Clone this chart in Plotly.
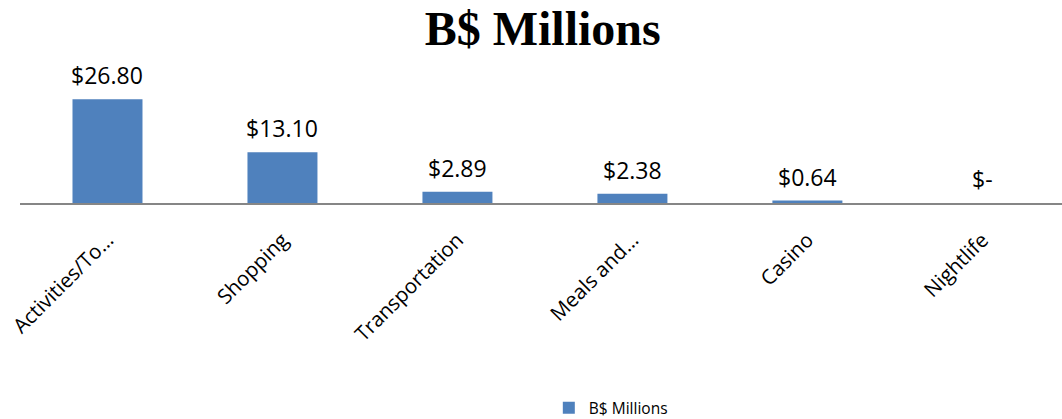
import plotly.graph_objects as go

categories = ["Activities/To…", "Shopping", "Transportation", "Meals and…", "Casino", "Nightlife"]
values = [26.80, 13.10, 2.89, 2.38, 0.64, 0.0]
value_labels = ["$26.80", "$13.10", "$2.89", "$2.38", "$0.64", "$-"]
series_name = "B$ Millions"
title_text = "B$ Millions"

fig = go.Figure()
fig.add_trace(go.Bar(
    x=categories, y=values, name=series_name,
    marker=dict(color="#4F81BD", line=dict(color="#4F81BD", width=0)),
    width=0.4, showlegend=True,
))

font_family = "Open Sans, Lato, sans-serif"
annotations = [
    dict(x=c, y=v, text=t, showarrow=False, yshift=24, xref="x", yref="y",
         font=dict(family=font_family, size=23, color="#000000"))
    for c, v, t in zip(categories, values, value_labels)
]

fig.update_layout(
    width=1062, height=419,
    margin=dict(l=20, r=0, t=87, b=216),
    paper_bgcolor="white", plot_bgcolor="white",
    title=dict(text="<b>" + title_text + "</b>", x=0.511, xanchor="center", y=0.933, yanchor="middle",
               font=dict(family="Liberation Serif, Times New Roman, serif", size=48, color="#000000")),
    xaxis=dict(range=[-0.5, 5.455], showline=True, linecolor="#868686", linewidth=2,
               ticks="", tickangle=-45, showgrid=False, zeroline=False, ticklabelstandoff=15,
               tickfont=dict(family=font_family, size=20.5, color="#000000")),
    yaxis=dict(range=[0, 30], visible=False, showgrid=False, zeroline=False),
    showlegend=True,
    legend=dict(orientation="h", x=0.567, xanchor="center", yref="container", y=0.026, yanchor="middle",
                font=dict(family=font_family, size=15.5, color="#000000"), itemwidth=30),
    annotations=annotations,
)

fig.write_html("out.html", config={"displayModeBar": False},
               post_script="document.body.style.margin='0';document.body.style.overflow='hidden';")
